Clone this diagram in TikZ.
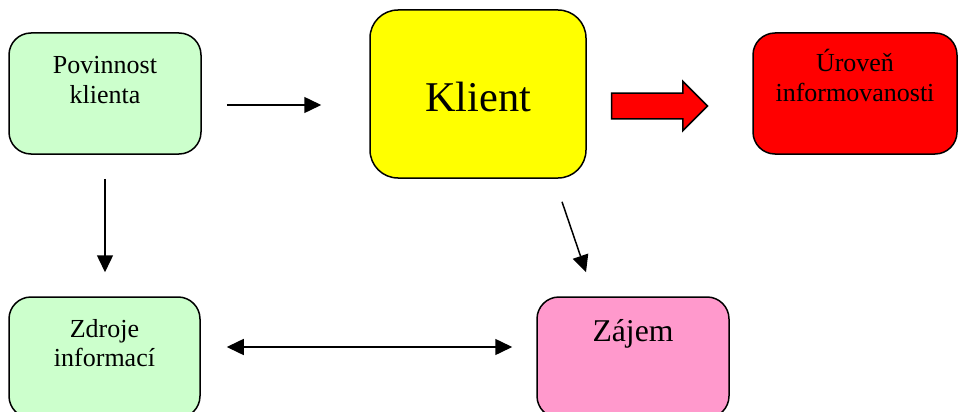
\documentclass[tikz,border=0pt]{standalone}
\usepackage{fontspec}
\setmainfont{Liberation Serif}
\usetikzlibrary{arrows.meta,shapes.arrows}
\definecolor{palegreen}{HTML}{CCFFCC}
\definecolor{pinkbox}{HTML}{FF99CC}
\definecolor{pureyellow}{HTML}{FFFF00}
\begin{document}
\begin{tikzpicture}[x=1pt,y=-1pt,
  box/.style={draw, line width=1.5pt, rounded corners=22pt, inner sep=0pt},
  small/.style={font=\fontsize{26}{29.5}\selectfont, align=center, inner sep=0pt},
  arr/.style={line width=1.5pt, -{Triangle[length=17pt,width=16pt]}}]
	\clip (0,0) rectangle (959,412);
	\node [box, fill=palegreen, minimum width=192pt, minimum height=121pt,
	  label={[small, anchor=north, yshift=-24pt]north:Povinnost\\klienta}] (p) at (105,93.5) {};
	\node [box, fill=pureyellow, rounded corners=28pt, minimum width=216pt, minimum height=168pt,
	  text height=34pt, text depth=0pt, font=\fontsize{42.4}{46}\selectfont] (k) at (478,94) {Klient};
	\node [box, fill=red, minimum width=204pt, minimum height=121pt,
	  label={[small, anchor=north, yshift=-17pt]north:Úroveň\\informovanosti}] (u) at (855,93.5) {};
	\node [box, fill=palegreen, minimum width=191pt, minimum height=121pt,
	  label={[small, anchor=north, yshift=-23pt]north:Zdroje\\informací}] (z) at (104.5,357.5) {};
	\node [box, fill=pinkbox, minimum width=192pt, minimum height=121pt,
	  label={[small, font=\fontsize{31.7}{35}\selectfont, anchor=north, yshift=-23.5pt]north:Zájem}] (j) at (633,357.5) {};
	% block arrow towards the red box
	\node [single arrow, draw, fill=red, line width=1.5pt, inner xsep=0pt, inner ysep=12pt,
	  minimum height=96pt, single arrow head extend=12pt,
	  anchor=tail] (push) at ([shift={(24,12)}]k.east) {};
	\draw [arr] ([shift={(25,11.5)}]p.east) -- ([shift={(-48,11)}]k.west);
	\draw [arr] ([shift={(0,24)}]p.south) -- ([shift={(0.5,-24)}]z.north);
	\draw [arr] ([shift={(84,23)}]k.south) -- ([shift={(-47,-24)}]j.north);
	\draw [line width=1.5pt, {Triangle[length=17pt,width=16pt]}-{Triangle[length=17pt,width=16pt]}]
	  ([shift={(26,-10.5)}]z.east) -- ([shift={(-24,-10.5)}]j.west);
\end{tikzpicture}
\end{document}
